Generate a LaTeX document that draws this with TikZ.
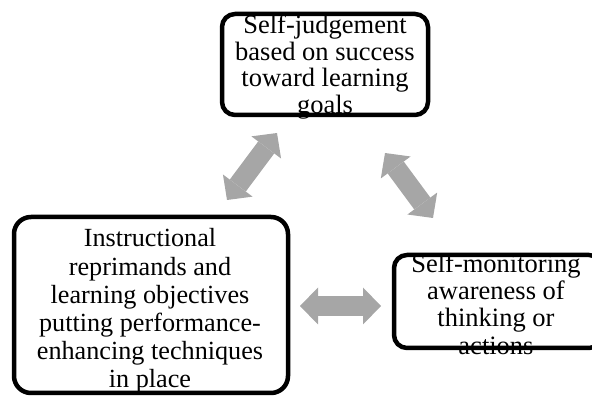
\documentclass[tikz,border=0pt]{standalone}
\usepackage{fontspec}
\setmainfont{Liberation Serif}
\usetikzlibrary{arrows.meta}
\definecolor{arrowgray}{HTML}{A6A6A6}
\tikzset{
  box/.style={draw=black, line width=4.5pt, rounded corners=13pt, inner sep=0pt},
  txt/.style={align=center, inner sep=0pt},
  blockarrow/.style={draw=arrowgray, line width=20pt,
    {Triangle[length=18pt,width=37pt,line width=0pt]}-{Triangle[length=18pt,width=37pt,line width=0pt]}}
}
\begin{document}
\begin{tikzpicture}[x=1pt,y=1pt]
\useasboundingbox (0,0) rectangle (592,399);
% boxes
\node[box, minimum width=206pt, minimum height=101pt] (topbox) at (325,334.5) {};
\node[box, rounded corners=17pt, minimum width=274pt, minimum height=176pt] (leftbox) at (151,94) {};
\node[box, minimum width=208pt, minimum height=93pt] (rightbox) at (498,97.5) {};
% texts
\node[txt, font=\fontsize{26.5}{26.6}\selectfont] (toptext) at (325,332)
  {Self-judgement\\based on success\\toward learning\\goals};
\node[txt, font=\fontsize{26.2}{28.2}\selectfont] (lefttext) at (150,88)
  {Instructional\\reprimands and\\learning objectives\\putting performance-\\enhancing techniques\\in place};
\node[txt, font=\fontsize{26.5}{27.4}\selectfont] (righttext) at (496,95)
  {Self-monitoring\\awareness of\\thinking or\\actions};
% arrow ends
\coordinate (a1s) at (227,199);
\coordinate (a1e) at (277,266);
\coordinate (a2s) at (385,246);
\coordinate (a2e) at (433,181);
\coordinate (a3s) at (300,93);
\coordinate (a3e) at (381,93);
\draw[blockarrow] (a1s) -- (a1e);
\draw[blockarrow] (a2s) -- (a2e);
\draw[blockarrow] (a3s) -- (a3e);
\end{tikzpicture}
\end{document}
